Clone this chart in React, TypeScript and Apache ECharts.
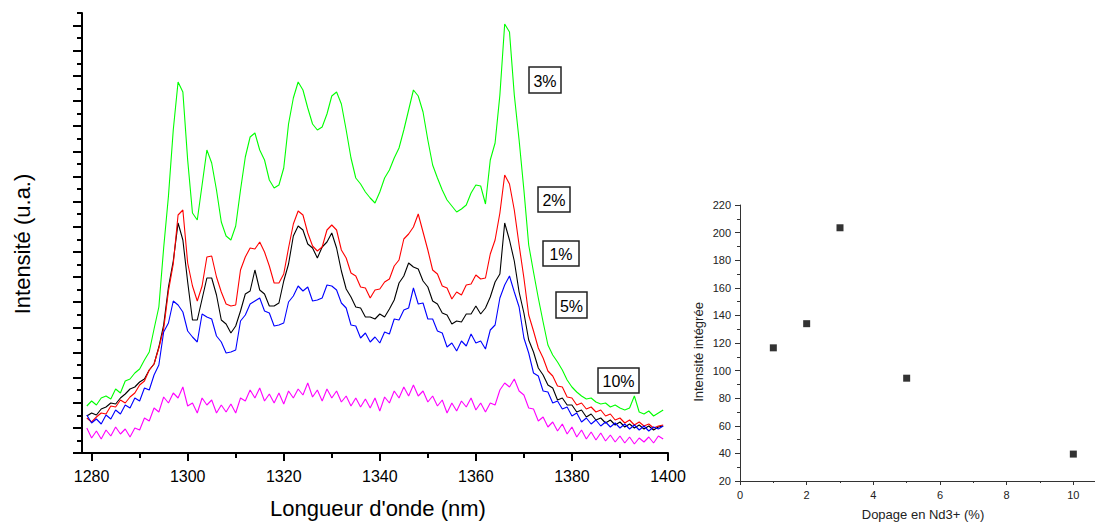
import React, { useEffect, useRef } from "react";
import * as echarts from "echarts";

// ---------- Data ----------
// Emission spectra, wavelength grid starts at 1279 nm, 1 nm step
const WL_START = 1279;
// Intensity (a.u.)
const SPEC_1 = [
  37,40,38,44,46,50,49,55,59,64,
  66,71,74,83,89,106,128,166,192,230,
  213,171,133,133,154,175,175,158,133,129,
  120,127,142,159,162,183,163,159,147,147,
  150,172,189,217,227,223,209,205,195,206,
  211,220,205,182,164,156,146,145,136,136,
  134,139,136,144,153,170,177,190,186,184,
  172,166,152,149,140,138,129,132,131,139,
  139,147,139,145,156,171,179,230,213,192,
  161,140,113,101,85,78,68,65,53,55,
  48,48,41,43,36,39,33,35,30,33,
  28,31,26,29,25,28,24,27,23,26,
  27,
];
const SPEC_2 = [
  35,31,36,40,39,47,46,53,50,56,
  60,68,72,83,89,105,124,162,189,238,
  243,190,167,152,167,196,197,176,161,149,
  147,148,183,196,205,204,211,201,187,170,
  170,179,205,229,242,238,220,207,202,206,
  223,228,223,203,195,180,177,166,165,155,
  163,164,171,174,187,193,214,219,226,239,
  221,203,183,179,167,165,154,161,158,168,
  169,178,174,175,199,213,240,278,269,243,
  208,175,138,122,105,95,82,77,67,66,
  56,55,48,50,44,46,41,43,37,39,
  33,35,30,33,28,31,27,29,25,27,
  28,
];
const SPEC_3 = [
  47,52,48,55,57,54,64,60,72,74,
  80,84,93,101,124,146,205,257,323,371,
  361,293,240,233,268,303,290,263,231,217,
  213,227,263,296,316,320,303,293,273,265,
  268,285,329,355,371,363,345,329,323,326,
  339,357,361,349,323,295,275,269,261,255,
  250,261,275,283,295,305,323,343,363,357,
  341,313,288,275,263,253,247,241,244,248,
  260,268,267,249,293,310,358,429,421,358,
  313,263,208,181,155,131,108,98,91,83,
  73,66,61,57,54,55,51,49,50,46,
  48,45,43,45,57,41,39,42,37,40,
  43,
];
const SPEC_5 = [
  38,30,34,29,38,34,43,39,48,45,
  55,52,65,63,78,88,121,130,152,148,
  141,122,116,111,139,136,134,117,111,100,
  101,103,132,138,149,152,155,142,140,127,
  128,130,151,157,167,162,166,152,153,155,
  168,167,163,150,145,128,127,115,120,111,
  116,110,121,119,134,133,143,145,165,149,
  150,134,134,122,120,106,110,102,112,107,
  119,110,112,104,123,128,155,168,177,161,
  146,115,100,80,77,62,61,50,52,44,
  46,37,40,31,35,29,33,27,31,26,
  30,25,29,24,28,23,27,22,26,24,
  27,
];
const SPEC_10 = [
  25,15,22,14,23,17,26,19,24,16,
  25,23,35,32,45,41,56,50,60,55,
  66,47,50,40,55,48,53,40,48,41,
  49,40,55,52,63,55,65,52,59,50,
  60,49,62,55,64,58,70,56,63,52,
  64,55,62,51,57,47,55,46,54,45,
  55,42,56,50,62,55,66,57,68,57,
  62,51,57,47,53,40,50,42,52,46,
  55,43,50,41,50,48,63,70,66,74,
  62,58,45,44,32,36,26,31,22,29,
  19,26,16,23,14,21,13,20,12,18,
  11,17,10,16,9,15,11,16,10,17,
  14,
];
const SERIES_LABELS = ["1%", "2%", "3%", "5%", "10%"];

// Integrated intensity vs Nd3+ doping
const DOPING = [1, 2, 3, 5, 10];
const INTEGRATED = [116.5, 134, 203.5, 94.5, 39.5];

// Tick values
const X_MAJOR = [1280, 1300, 1320, 1340, 1360, 1380, 1400];
const X_MINOR = [1290, 1310, 1330, 1350, 1370, 1390];
const D_MAJOR = [0, 2, 4, 6, 8, 10];
const D_MINOR = [1, 3, 5, 7, 9];
const I_MINOR = [30, 50, 70, 90, 110, 130, 150, 170, 190, 210];

const FONT = "'Liberation Sans', Arial, sans-serif";

export default function App() {
  const ref = useRef<HTMLDivElement>(null);
  useEffect(() => {
    if (!ref.current) return;
    const chart = echarts.init(ref.current, undefined, { renderer: "svg" });

    const Y_MAX = 440;
    const yTickAll = Array.from({ length: 36 }, (_, k) => (k * Y_MAX) / 35);
    const yMajor = yTickAll.filter((_, k) => k % 2 === 0);
    const yMinor = yTickAll.filter((_, k) => k % 2 === 1);

    const toPairs = (arr: number[]) => arr.map((v, i) => [WL_START + i, v]);
    const specs = [
      { d: SPEC_1, c: "#000000" },
      { d: SPEC_2, c: "#ff0000" },
      { d: SPEC_3, c: "#00ff00" },
      { d: SPEC_5, c: "#0000ff" },
      { d: SPEC_10, c: "#ff00ff" },
    ];

    const boxes = [
      { t: SERIES_LABELS[2], x: 529, y: 67, w: 32, h: 26 },
      { t: SERIES_LABELS[1], x: 538, y: 187, w: 32, h: 25 },
      { t: SERIES_LABELS[0], x: 543, y: 241, w: 36, h: 25 },
      { t: SERIES_LABELS[3], x: 556, y: 292, w: 31, h: 26 },
      { t: SERIES_LABELS[4], x: 598, y: 368, w: 41, h: 25 },
    ];

    const blackAxis = { lineStyle: { color: "#000", width: 2 } };
    const grayAxis = { lineStyle: { color: "#333", width: 1 } };
    const plain = (v: number) => String(v);

    chart.setOption({
      animation: false,
      textStyle: { fontFamily: FONT },
      grid: [
        { left: 82, top: 13, width: 586, height: 440 },
        { left: 740, top: 205, width: 355, height: 276 },
      ],
      xAxis: [
        {
          gridIndex: 0, type: "value", min: 1278, max: 1400, position: "bottom",
          axisLine: blackAxis,
          axisTick: { customValues: X_MAJOR, length: 8, lineStyle: { color: "#000", width: 2 } },
          axisLabel: { customValues: X_MAJOR, formatter: plain, color: "#000", fontSize: 16, margin: 15, fontFamily: FONT },
          splitLine: { show: false },
        },
        {
          gridIndex: 0, type: "value", min: 1278, max: 1400, position: "bottom",
          axisLine: { show: false },
          axisTick: { customValues: X_MINOR, length: 5, lineStyle: { color: "#000", width: 2 } },
          axisLabel: { show: false },
          splitLine: { show: false },
        },
        {
          gridIndex: 1, type: "value", min: 0, max: 10.65, position: "bottom",
          axisLine: grayAxis,
          axisTick: { customValues: D_MAJOR, length: 4, lineStyle: { color: "#333", width: 1 } },
          axisLabel: { customValues: D_MAJOR, formatter: plain, color: "#222", fontSize: 11, margin: 8, fontFamily: FONT },
          splitLine: { show: false },
        },
        {
          gridIndex: 1, type: "value", min: 0, max: 10.65, position: "bottom",
          axisLine: { show: false },
          axisTick: { customValues: D_MINOR, length: 2, lineStyle: { color: "#333", width: 1 } },
          axisLabel: { show: false },
          splitLine: { show: false },
        },
      ],
      yAxis: [
        {
          gridIndex: 0, type: "value", min: 0, max: Y_MAX, position: "left",
          axisLine: { show: true, ...blackAxis },
          axisTick: { show: true, customValues: yMajor, length: 9, lineStyle: { color: "#000", width: 2 } },
          axisLabel: { show: false },
          splitLine: { show: false },
        },
        {
          gridIndex: 0, type: "value", min: 0, max: Y_MAX, position: "left",
          axisLine: { show: false },
          axisTick: { show: true, customValues: yMinor, length: 5, lineStyle: { color: "#000", width: 2 } },
          axisLabel: { show: false },
          splitLine: { show: false },
        },
        {
          gridIndex: 1, type: "value", min: 20, max: 220, interval: 20, position: "left",
          axisLine: { show: true, ...grayAxis },
          axisTick: { show: true, length: 5, lineStyle: { color: "#333", width: 1 } },
          axisLabel: { formatter: plain, color: "#222", fontSize: 11, margin: 9, fontFamily: FONT },
          splitLine: { show: false },
        },
        {
          gridIndex: 1, type: "value", min: 20, max: 220, position: "left",
          axisLine: { show: false },
          axisTick: { show: true, customValues: I_MINOR, length: 3, lineStyle: { color: "#333", width: 1 } },
          axisLabel: { show: false },
          splitLine: { show: false },
        },
      ],
      series: [
        ...specs.map((s, i) => ({
          type: "line",
          name: SERIES_LABELS[i],
          xAxisIndex: 0,
          yAxisIndex: 0,
          data: toPairs(s.d),
          symbol: "none",
          showSymbol: false,
          silent: true,
          lineStyle: { color: s.c, width: 1.1 },
          itemStyle: { color: s.c },
          z: 2 + i,
        })),
        {
          type: "scatter",
          xAxisIndex: 2,
          yAxisIndex: 2,
          data: DOPING.map((d, i) => [d, INTEGRATED[i]]),
          symbol: "rect",
          symbolSize: 7,
          itemStyle: { color: "#000" },
          silent: true,
        },
      ],
      graphic: [
        {
          type: "text", x: 22, y: 244, rotation: Math.PI / 2,
          style: { text: "Intensité (u.a.)", fontSize: 22, fontFamily: FONT, fill: "#000", align: "center", verticalAlign: "middle" },
        },
        {
          type: "text", x: 378, y: 508,
          style: { text: "Longueur d'onde (nm)", fontSize: 22, fontFamily: FONT, fill: "#000", align: "center", verticalAlign: "middle" },
        },
        {
          type: "text", x: 698, y: 352, rotation: Math.PI / 2,
          style: { text: "Intensité intégrée", fontSize: 13, fontFamily: FONT, fill: "#222", align: "center", verticalAlign: "middle" },
        },
        {
          type: "text", x: 923, y: 514,
          style: { text: "Dopage en Nd3+ (%)", fontSize: 13, fontFamily: FONT, fill: "#222", align: "center", verticalAlign: "middle" },
        },
        ...boxes.map((b) => ({
          type: "group",
          z: 100,
          children: [
            {
              type: "rect",
              shape: { x: b.x, y: b.y, width: b.w, height: b.h },
              style: { fill: "#fff", stroke: "#222", lineWidth: 1.5 },
            },
            {
              type: "text",
              x: b.x + b.w / 2,
              y: b.y + b.h / 2 + 1,
              style: { text: b.t, fontSize: 16, fontFamily: FONT, fill: "#000", align: "center", verticalAlign: "middle" },
            },
          ],
        })),
      ],
    });

    return () => chart.dispose();
  }, []);

  return (
    <div
      ref={ref}
      style={{ position: "fixed", left: 0, top: 0, width: 1095, height: 522, background: "#fff" }}
    />
  );
}
